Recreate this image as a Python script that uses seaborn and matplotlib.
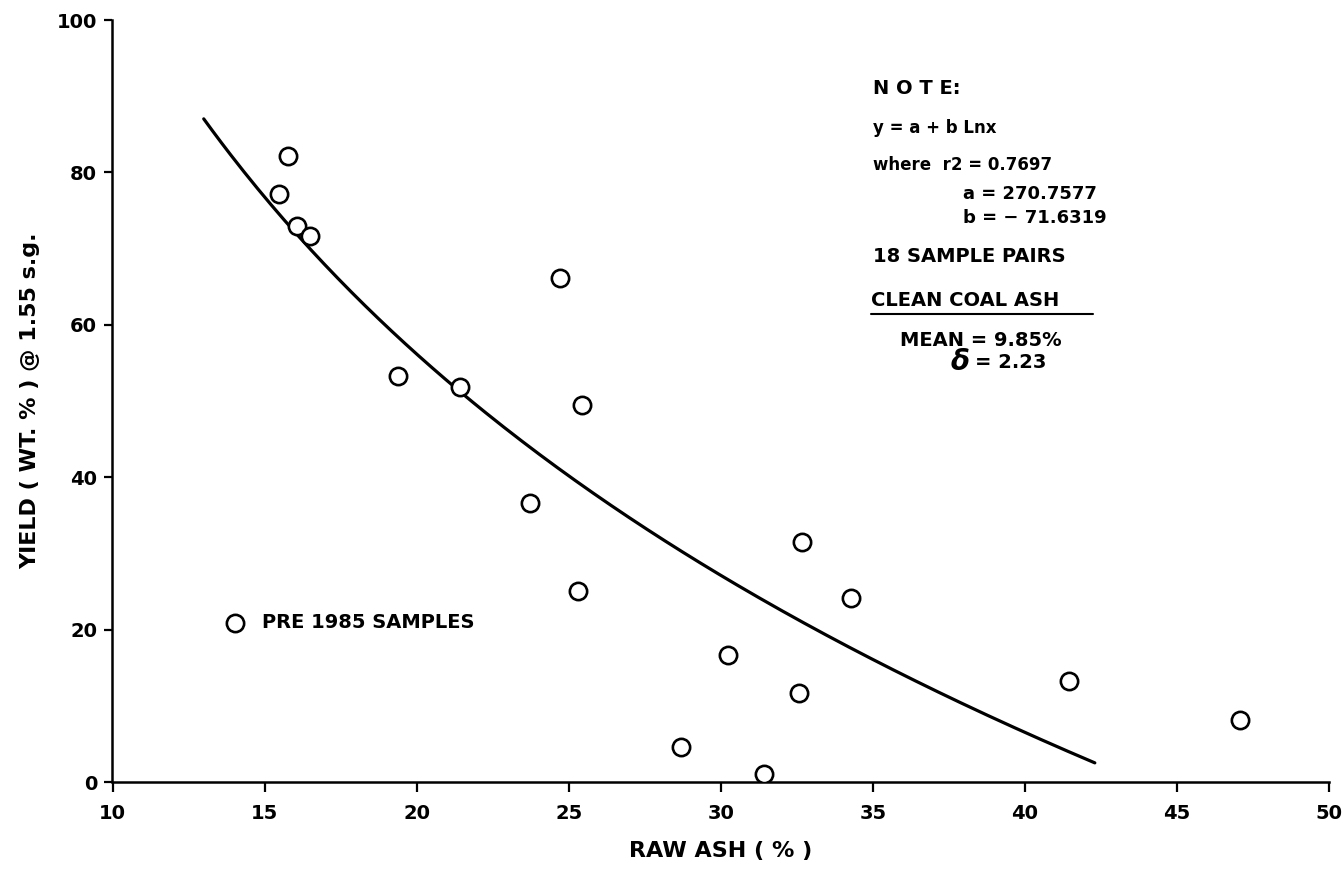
import numpy as np
import pandas as pd
import matplotlib
matplotlib.use("Agg")
import matplotlib.pyplot as plt
import seaborn as sns
from matplotlib.lines import Line2D

# ---- data ----
raw_ash = [15.78, 15.49, 16.08, 16.50, 19.40, 21.43, 24.72, 25.45, 23.73,
           25.32, 32.67, 34.28, 30.24, 32.58, 28.70, 31.41, 41.44, 47.09]
yield_wt = [82.1, 77.1, 73.0, 71.6, 53.3, 51.8, 66.1, 49.5, 36.6,
            25.1, 31.5, 24.1, 16.7, 11.7, 4.6, 1.1, 13.3, 8.2]

# fitted model stated on the chart: y = a + b ln x
fit_a = 270.7577
fit_b = -71.6319
fit_x_range = [13.0, 42.3]

x_ticks = [10, 15, 20, 25, 30, 35, 40, 45, 50]
y_ticks = [0, 20, 40, 60, 80, 100]

legend_label = "PRE 1985 SAMPLES"
note_lines = {
    "note": "N O T E:",
    "eq": "y = a + b Lnx",
    "r2": "where  r2 = 0.7697",
    "a": "a = 270.7577",
    "b": "b = \u2212 71.6319",
    "pairs": "18 SAMPLE PAIRS",
    "clean": "CLEAN COAL ASH",
    "mean": "MEAN = 9.85%",
    "sd": "= 2.23",
}

# ---- styling ----
sns.set_style("ticks")
plt.rcParams["font.family"] = ["DejaVu Sans"]
plt.rcParams["font.weight"] = "bold"
for k in ["text.color", "axes.labelcolor", "xtick.color", "ytick.color",
          "axes.edgecolor"]:
    plt.rcParams[k] = "black"

W, H = 1344, 886
fig = plt.figure(figsize=(W / 100, H / 100), dpi=100)
ax = fig.add_axes([112.5 / W, 1 - 782 / H, (1329 - 112.5) / W, (782 - 20) / H])

df = pd.DataFrame({"raw": raw_ash, "yld": yield_wt})
xs = np.linspace(fit_x_range[0], fit_x_range[1], 200)
fit_df = pd.DataFrame({"x": xs, "y": fit_a + fit_b * np.log(xs)})

sns.lineplot(data=fit_df, x="x", y="y", ax=ax, color="black", lw=2.3,
             legend=False)
sns.scatterplot(data=df, x="raw", y="yld", ax=ax, marker="o", s=155,
                facecolor="white", edgecolor="black", linewidth=1.9,
                label=legend_label, zorder=3)

ax.set_xlim(10, 50)
ax.set_ylim(0, 100)
ax.set_xticks(x_ticks)
ax.set_yticks(y_ticks)
ax.set_xticklabels([str(v) for v in x_ticks], fontsize=14, fontweight="bold")
ax.set_yticklabels([str(v) for v in y_ticks], fontsize=14, fontweight="bold")
ax.tick_params(axis="x", length=7, width=1.6, pad=9, color="black")
ax.tick_params(axis="y", length=6, width=1.6, pad=5, color="black")
for s in ["top", "right"]:
    ax.spines[s].set_visible(False)
for s in ["left", "bottom"]:
    ax.spines[s].set_linewidth(1.8)
    ax.spines[s].set_color("black")

ax.set_xlabel("RAW ASH ( % )", fontsize=16, fontweight="bold", labelpad=13)
ax.set_ylabel("YIELD ( WT. % ) @ 1.55 s.g.", fontsize=16, fontweight="bold",
              labelpad=12)

leg = ax.legend(loc="center left",
                bbox_to_anchor=((225 - 112.5) / 1216.5, (782 - 623) / 762),
                frameon=False, fontsize=14, handlelength=1.0,
                handletextpad=0.9, borderpad=0, borderaxespad=0)
for t in leg.get_texts():
    t.set_fontweight("bold")
    t.set_color("black")


def ftext(px, py, s, size=14, **kw):
    fig.text(px / W, 1 - py / H, s, fontsize=size, fontweight="bold",
             va="center", ha="left", color="black", **kw)


ftext(873, 88, note_lines["note"], 14)
ftext(873, 128, note_lines["eq"], 12)
ftext(873, 165, note_lines["r2"], 12)
ftext(963, 194, note_lines["a"], 13)
ftext(963, 218, note_lines["b"], 13)
ftext(873, 257, note_lines["pairs"], 14)
ftext(871, 301, note_lines["clean"], 14)
fig.add_artist(Line2D([871 / W, 1093 / W], [1 - 314 / H, 1 - 314 / H],
                      color="black", lw=1.5, transform=fig.transFigure))
ftext(900, 340, note_lines["mean"], 14)
fig.text(950 / W, 1 - 362 / H, "$\\delta$", fontsize=20, va="center",
         ha="left", color="black")
ftext(975, 363, note_lines["sd"], 14)

fig.savefig("out.png", dpi=100, facecolor="white")
